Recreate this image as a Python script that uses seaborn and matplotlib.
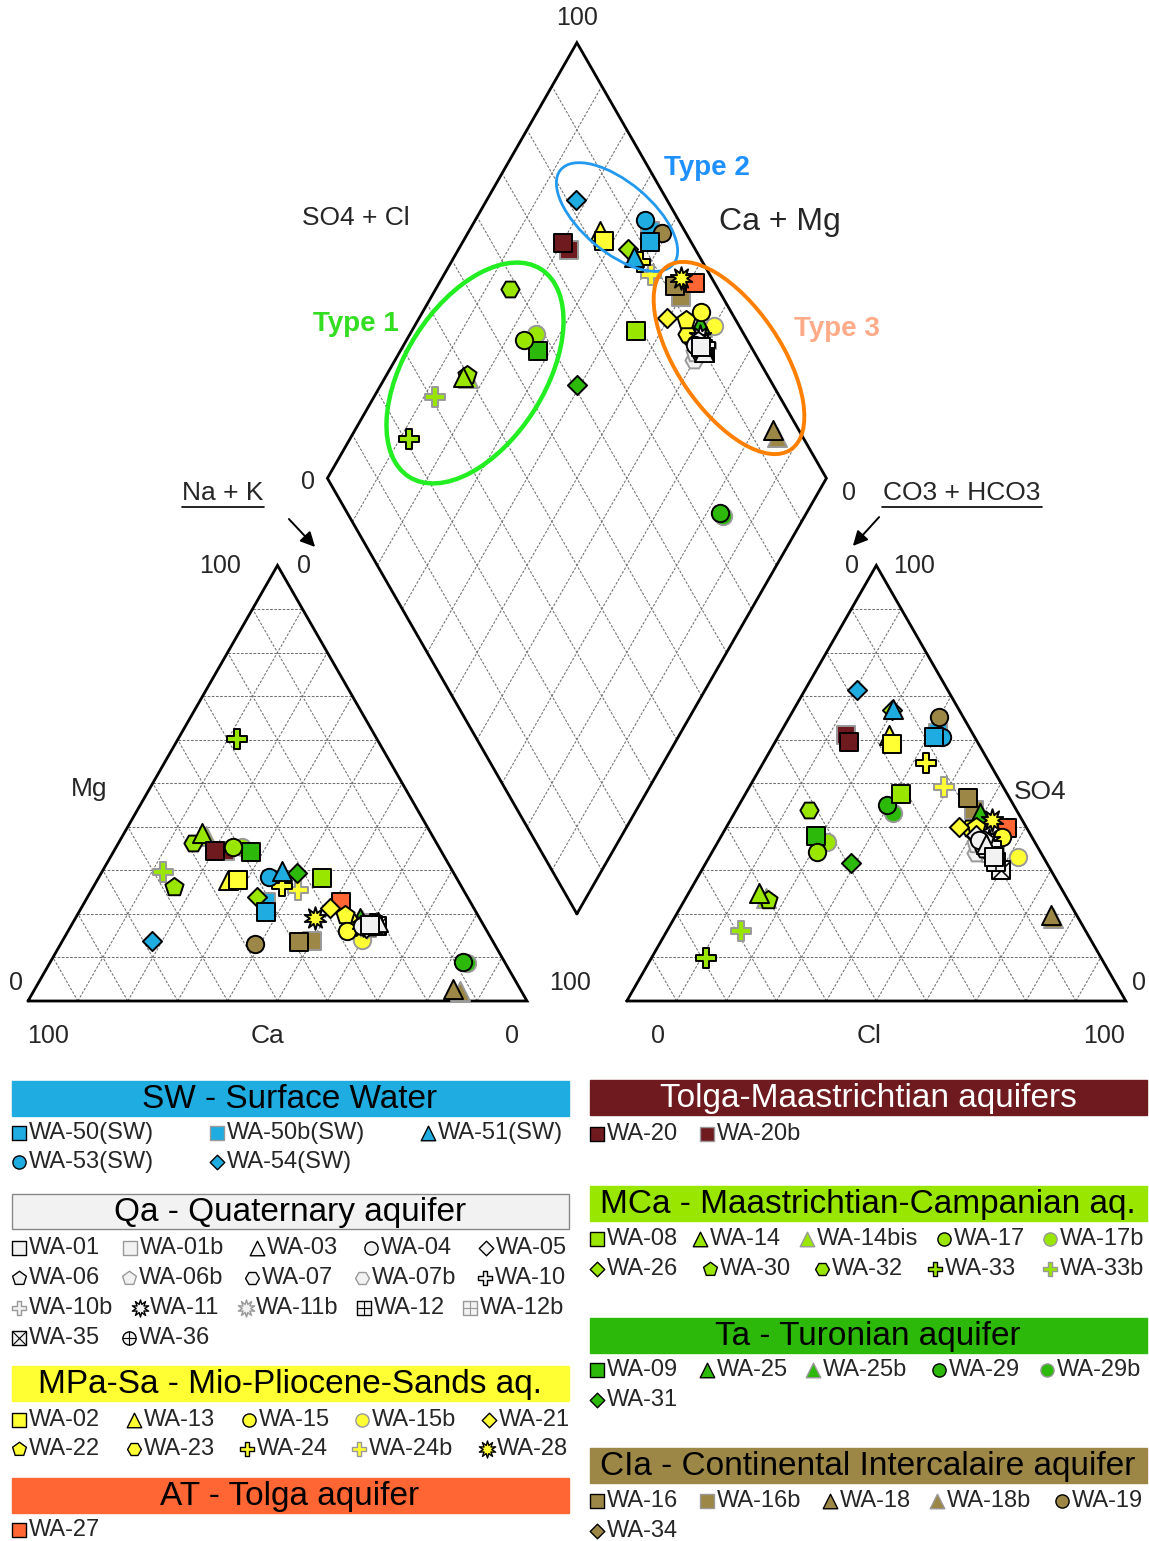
import numpy as np
import pandas as pd
import matplotlib.pyplot as plt
from matplotlib.patches import Rectangle, Ellipse
import seaborn as sns

sns.set_style('white')
plt.rcParams['font.family'] = ['Liberation Sans', 'DejaVu Sans']

# ---- samples: cations Ca, Mg (Na+K = rest) / anions SO4, Cl (CO3+HCO3 = rest), % meq
names = ['WA-50(SW)', 'WA-50b(SW)', 'WA-51(SW)', 'WA-53(SW)', 'WA-54(SW)',
         'WA-01', 'WA-01b', 'WA-03', 'WA-04', 'WA-05', 'WA-06', 'WA-06b', 'WA-07', 'WA-07b',
         'WA-10', 'WA-10b', 'WA-11', 'WA-11b', 'WA-12', 'WA-12b', 'WA-35', 'WA-36',
         'WA-02', 'WA-13', 'WA-15', 'WA-15b', 'WA-21', 'WA-22', 'WA-23', 'WA-24', 'WA-24b', 'WA-28',
         'WA-27',
         'WA-20', 'WA-20b',
         'WA-08', 'WA-14', 'WA-14bis', 'WA-17', 'WA-17b', 'WA-26', 'WA-30', 'WA-32', 'WA-33', 'WA-33b',
         'WA-09', 'WA-25', 'WA-25b', 'WA-29', 'WA-29b', 'WA-31',
         'WA-16', 'WA-16b', 'WA-18', 'WA-18b', 'WA-19', 'WA-34']
groups = ['SW'] * 5 + ['Qa'] * 17 + ['MPa'] * 10 + ['AT'] + ['TM'] * 2 + ['MCa'] * 10 + ['Ta'] * 6 + ['CIa'] * 6
shapes = ['s', 's', '^', 'o', 'D',
          's', 's', '^', 'o', 'D', 'p', 'p', 'H', 'H', 'P', 'P', 'sun', 'sun', 'sq+', 'sq+', 'sqx', 'o+',
          's', '^', 'o', 'o', 'D', 'p', 'H', 'P', 'P', 'sun',
          's',
          's', 's',
          's', '^', '^', 'o', 'o', 'D', 'p', 'H', 'P', 'P',
          's', '^', '^', 'o', 'o', 'D',
          's', 's', '^', '^', 'o', 'D']
ca = [42.0, 40.9, 34.2, 37.5, 68.3,
      22.7, 23.2, 20.8, 24.5, 23.9, 24.0, 23.5, 22.9, 23.1, 22.0, 22.4, 24.2, 23.6, 22.2, 22.6, 21.5, 22.8,
      44.0, 46.0, 28.0, 26.1, 28.8, 26.6, 26.4, 35.9, 33.1, 32.9,
      25.9,
      45.2, 43.3,
      26.9, 45.8, 45.4, 41.2, 39.4, 42.2, 57.6, 48.8, 28.0, 58.1,
      38.2, 23.9, 23.8, 8.3, 7.7, 31.4,
      38.9, 36.2, 13.4, 12.3, 48.0, 25.7]
mg = [20.5, 22.8, 29.9, 28.5, 13.8,
      17.5, 17.8, 18.2, 17.2, 16.8, 17.6, 17.3, 16.9, 17.1, 17.7, 17.0, 17.4, 17.0, 17.4, 17.6, 17.3, 17.5,
      27.8, 27.8, 16.1, 14.0, 21.4, 19.8, 18.2, 26.4, 25.5, 19.1,
      22.8,
      34.5, 34.5,
      28.3, 38.6, 37.9, 35.4, 35.4, 23.9, 26.2, 36.3, 60.2, 29.7,
      34.3, 19.1, 18.6, 9.0, 8.7, 29.4,
      13.6, 13.8, 2.8, 2.3, 13.1, 17.2]
so4 = [60.5, 61.6, 67.1, 60.5, 71.3,
       33, 34, 36, 37, 38, 37, 36, 35, 34, 36, 35, 37, 36, 32, 33, 30, 34,
       59.1, 61.1, 37.7, 33.1, 40.0, 40.0, 39.8, 54.7, 49.2, 41.6,
       39.8,
       59.5, 61.0,
       47.6, 24.8, 23.7, 34.3, 36.6, 66.8, 23.2, 43.9, 9.9, 16.1,
       37.9, 43.2, 42.5, 45.1, 43.2, 31.7,
       46.7, 43.9, 19.8, 19.1, 65.3, 38.2]
cl = [31.3, 31.5, 19.7, 32.9, 10.5,
      57, 56, 54, 52, 51, 53, 52, 54, 53, 55, 56, 54, 53, 58, 57, 60, 56,
      23.6, 21.9, 56.3, 61.8, 46.5, 50.0, 48.8, 32.7, 38.9, 52.3,
      56.3,
      14.7, 13.5,
      31.1, 14.1, 16.0, 20.9, 21.8, 19.8, 16.7, 14.5, 10.9, 14.8,
      18.9, 49.1, 49.9, 29.6, 31.7, 29.0,
      45.0, 47.7, 75.1, 75.8, 29.9, 50.6]

group_keys = ['SW', 'Qa', 'MPa', 'AT', 'TM', 'MCa', 'Ta', 'CIa']
group_titles = ['SW - Surface Water', 'Qa - Quaternary aquifer', 'MPa-Sa - Mio-Pliocene-Sands aq.',
                'AT - Tolga aquifer', 'Tolga-Maastrichtian aquifers', 'MCa - Maastrichtian-Campanian aq.',
                'Ta - Turonian aquifer', 'CIa - Continental Intercalaire aquifer']
group_colors = ['#1fade1', '#f2f2f2', '#ffff33', '#ff6633', '#6e1a1e', '#99e600', '#2cb90a', '#9c8747']

# ---- layout (pixels)
X0, Y0, SX, SY = 28, 1001, 499, 503
SIN = np.sin(np.pi / 3)


def topx(x, y):
    return X0 + SX * np.asarray(x), Y0 - SY * np.asarray(y)


df = pd.DataFrame(dict(name=names, group=groups, shape=shapes, ca=ca, mg=mg, so4=so4, cl=cl))
df['nak'] = 100 - df.ca - df.mg
df['xc'] = df.nak / 100 + df.mg / 200
df['yc'] = df.mg / 100 * SIN
df['xa'] = 1.2 + df.cl / 100 + df.so4 / 200
df['ya'] = df.so4 / 100 * SIN
t = (df.xa - df.xc) + (df.ya - df.yc) / (2 * SIN)
df['xd'] = df.xc + 0.5 * t
df['yd'] = df.yc + SIN * t
df['faded'] = df.name.str.contains('b')
df['color'] = df.group.map(dict(zip(group_keys, group_colors)))

MK = {'s': ('s', 1.0), '^': ('^', 1.1), 'o': ('o', 1.0), 'D': ('D', 0.78), 'p': ('p', 1.1),
      'H': ('H', 1.05), 'P': ('P', 1.1), 'sun': ((10, 1, 0), 1.3), 'sq+': ('s', 1.0),
      'sqx': ('s', 1.0), 'o+': ('o', 1.0)}


def draw(ax, xs, ys, shape, fc, ec, ms, lw, z):
    m, k = MK[shape]
    sns.scatterplot(x=np.atleast_1d(xs), y=np.atleast_1d(ys), marker=m, s=(ms * k) ** 2,
                    color=fc, edgecolor=ec, linewidth=lw, ax=ax, zorder=z, legend=False)
    if shape in ('sq+', 'o+'):
        ax.scatter(xs, ys, marker='+', s=(ms * k) ** 2, c=ec, linewidths=lw * 0.8, zorder=z)
    if shape == 'sqx':
        ax.scatter(xs, ys, marker='x', s=(ms * k) ** 2, c=ec, linewidths=lw * 0.8, zorder=z)


fig = plt.figure(figsize=(11.49, 15.41), dpi=100)
ax = fig.add_axes([0, 0, 1, 1])

# ---- frames and grids
grid_kw = dict(color='#707070', lw=0.75, ls=(0, (2.5, 1.5)), zorder=1)
frame_kw = dict(color='k', lw=2.0, zorder=2, solid_joinstyle='miter')
for off in (0, 1.2):
    for i in range(1, 10):
        f = i / 10
        segs = [((f / 2, f * SIN), (1 - f / 2, f * SIN)),
                ((1 - f, 0), ((1 - f) / 2, (1 - f) * SIN)),
                ((f, 0), (f + (1 - f) / 2, (1 - f) * SIN))]
        for (a, b) in segs:
            xs, ys = topx([a[0] + off, b[0] + off], [a[1], b[1]])
            ax.plot(xs, ys, **grid_kw)
    xs, ys = topx(np.array([0, 1, 0.5, 0]) + off, [0, 0, SIN, 0])
    ax.plot(xs, ys, **frame_kw)

B = np.array([1.1, 0.2 * SIN])
L = np.array([0.6, 1.2 * SIN])
T = np.array([1.1, 2.2 * SIN])
R = np.array([1.6, 1.2 * SIN])
for i in range(1, 10):
    f = i / 10
    for p, q in ((B + f * (R - B), L + f * (T - L)), (B + f * (L - B), R + f * (T - R))):
        xs, ys = topx([p[0], q[0]], [p[1], q[1]])
        ax.plot(xs, ys, **grid_kw)
dm = np.array([B, L, T, R, B])
xs, ys = topx(dm[:, 0], dm[:, 1])
ax.plot(xs, ys, **frame_kw)

# ---- sample points in the three fields (first listed ends on top)
for fade in (True, False):
    for _, r in df[df.faded == fade].iloc[::-1].iterrows():
        px, py = topx([r.xc, r.xa, r.xd], [r.yc, r.ya, r.yd])
        ec = '#999999' if fade else 'k'
        draw(ax, px, py, r['shape'], r.color, ec, 12.5, 1.4, 5 if fade else 6)

# ---- type ellipses
ax.add_patch(Ellipse((475, 373), 246, 140, angle=-57.6, fill=False, ec='#22ee22', lw=3.2, zorder=7))
ax.add_patch(Ellipse((617, 217), 147, 70, angle=40, fill=False, ec='#2299ee', lw=2.0, zorder=7))
ax.add_patch(Ellipse((729, 358), 221, 104, angle=56, fill=False, ec='#ff8000', lw=2.8, zorder=7))
ax.text(356, 324, 'Type 1', color='#33dd22', fontsize=20, fontweight='bold', ha='center', va='center')
ax.text(707, 168, 'Type 2', color='#1e90ff', fontsize=20, fontweight='bold', ha='center', va='center')
ax.text(837, 329, 'Type 3', color='#ffaa88', fontsize=20, fontweight='bold', ha='center', va='center')

# ---- axis labels
lab = [(577, 18, '100', 18), (356, 218, 'SO4 + Cl', 19), (780, 222, 'Ca + Mg', 23),
       (308, 482, '0', 18), (849, 493, '0', 18), (223, 493, 'Na + K', 19), (962, 493, 'CO3 + HCO3', 19),
       (220, 566, '100', 18), (304, 566, '0', 18), (89, 789, 'Mg', 19), (16, 983, '0', 18),
       (570, 983, '100', 18), (48, 1036, '100', 18), (267, 1036, 'Ca', 19), (512, 1036, '0', 18),
       (852, 566, '0', 18), (914, 566, '100', 18), (1040, 792, 'SO4', 19), (1139, 983, '0', 18),
       (658, 1036, '0', 18), (869, 1036, 'Cl', 19), (1104, 1036, '100', 18)]
for x, y, s, fs in lab:
    ax.text(x, y, s, fontsize=fs, ha='center', va='center')
ax.plot([182, 264], [507, 507], color='k', lw=1.2)
ax.plot([882, 1042], [507, 507], color='k', lw=1.2)
arrow = dict(arrowstyle='-|>', color='k', lw=1.4, mutation_scale=22)
ax.annotate('', xy=(317, 549), xytext=(287, 517), arrowprops=arrow)
ax.annotate('', xy=(851, 548), xytext=(881, 515), arrowprops=arrow)

# ---- legend blocks
bars = {'SW': (12, 1081), 'Qa': (12, 1194), 'MPa': (12, 1366), 'AT': (12, 1478),
        'TM': (590, 1080), 'MCa': (590, 1186), 'Ta': (590, 1318), 'CIa': (590, 1448)}
rows = {'SW': [(1133, [12, 210, 421]), (1162, [12, 210])],
        'Qa': [(1248, [12, 123, 250, 364, 479]), (1278, [12, 122, 245, 355, 478]),
               (1308, [12, 133, 239, 357, 463]), (1338, [12, 122])],
        'MPa': [(1420, [12, 127, 242, 355, 482]), (1449, [12, 127, 240, 352, 480])],
        'AT': [(1530, [12])],
        'TM': [(1134, [590, 700])],
        'MCa': [(1239, [590, 693, 800, 937, 1043]), (1269, [590, 703, 815, 928, 1043])],
        'Ta': [(1370, [590, 700, 806, 932, 1040]), (1400, [590])],
        'CIa': [(1501, [590, 700, 823, 930, 1055]), (1531, [590])]}
for key, title, col in zip(group_keys, group_titles, group_colors):
    bx, by = bars[key]
    ax.add_patch(Rectangle((bx, by), 557, 35, fc=col, ec='#888888' if key == 'Qa' else col, lw=1))
    ax.text(bx + 278, by + 18, title, fontsize=24, ha='center', va='center',
            color='white' if key == 'TM' else 'k')
    sub = df[df.group == key].reset_index(drop=True)
    k = 0
    for ry, xs_row in rows[key]:
        for lx in xs_row:
            r = sub.iloc[k]
            ec = '#999999' if r.faded else 'k'
            draw(ax, [lx + 7], [ry], r['shape'], r.color, ec, 9.5, 1.0, 6)
            ax.text(lx + 17, ry, r['name'], fontsize=17, ha='left', va='center')
            k += 1

ax.set_xlim(0, 1149)
ax.set_ylim(1541, 0)
ax.axis('off')
fig.savefig('out.png', dpi=100)
